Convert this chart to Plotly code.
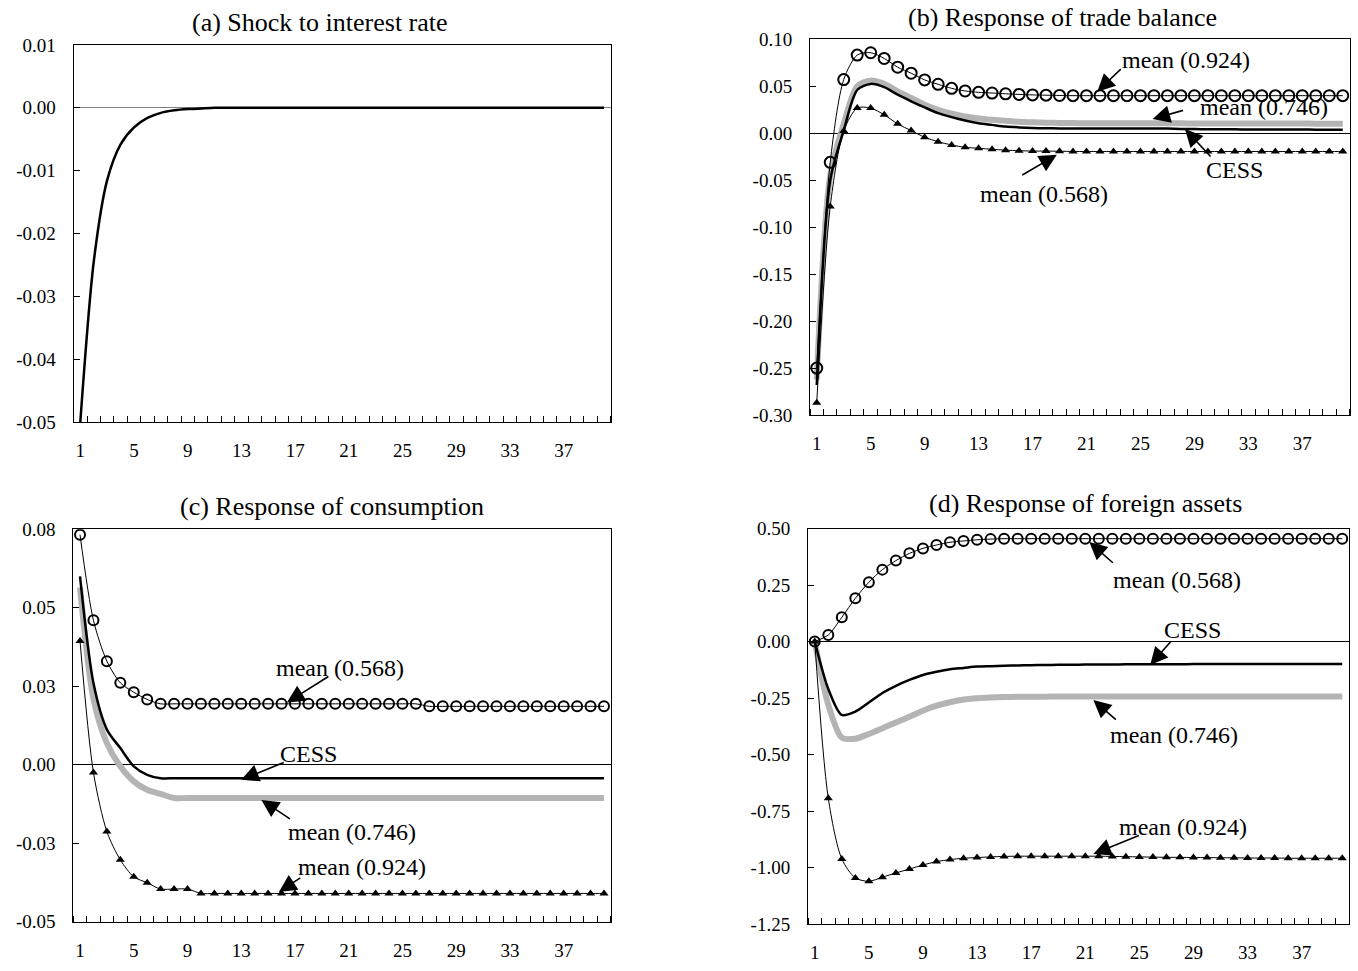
import plotly.graph_objects as go

# ---------------- data ----------------
periods = list(range(1, 41))
x_tick_vals = [1, 5, 9, 13, 17, 21, 25, 29, 33, 37]
x_tick_text = ["1", "5", "9", "13", "17", "21", "25", "29", "33", "37"]

# (a) shock to interest rate
shock = [-0.05, -0.0245, -0.0115, -0.0058, -0.0031, -0.0016, -0.0008, -0.0004, -0.0002, -0.0001] + [0.0] * 30

# (b) trade balance
tb_cess = [-0.268, -0.050, 0.003, 0.046, 0.0525, 0.049, 0.041, 0.034, 0.0275, 0.0214,
           0.0171, 0.0135, 0.0107, 0.0089, 0.0071, 0.0062, 0.0056, 0.0053, 0.0051, 0.0050,
           0.0050, 0.0050, 0.0050, 0.0050, 0.0050, 0.0050, 0.0049, 0.0046, 0.0044, 0.0043,
           0.0042, 0.0041, 0.0040, 0.0040, 0.0040, 0.0039, 0.0039, 0.0038, 0.0038, 0.0037]
tb_746 = [-0.262, -0.045, 0.010, 0.050, 0.056, 0.0525, 0.0446, 0.0375, 0.0303, 0.0250,
          0.0207, 0.0178, 0.0157, 0.0143, 0.0132, 0.0122, 0.0116, 0.0112, 0.0110, 0.0108,
          0.0107, 0.0106, 0.0106, 0.0105, 0.0105, 0.0105, 0.0105, 0.0105, 0.0104, 0.0104,
          0.0104, 0.0104, 0.0103, 0.0103, 0.0103, 0.0103, 0.0103, 0.0102, 0.0102, 0.0102]
tb_924 = [-0.250, -0.031, 0.0571, 0.0832, 0.0857, 0.0796, 0.0703, 0.0639, 0.0568, 0.0521,
          0.0478, 0.0450, 0.0435, 0.0428, 0.0420, 0.0413, 0.0408, 0.0405, 0.0402, 0.0400,
          0.0400, 0.0400, 0.0400, 0.0400, 0.0400, 0.0400, 0.0400, 0.0400, 0.0400, 0.0400,
          0.0400, 0.0400, 0.0400, 0.0400, 0.0400, 0.0400, 0.0400, 0.0400, 0.0400, 0.0400]
tb_568 = [-0.287, -0.078, 0.0025, 0.0268, 0.0268, 0.0196, 0.0100, 0.0028, -0.0043, -0.0090,
          -0.0125, -0.0150, -0.0160, -0.0171, -0.0180, -0.0186, -0.0190, -0.0190, -0.0192, -0.0194,
          -0.0195, -0.0195, -0.0195, -0.0195, -0.0195, -0.0195, -0.0195, -0.0195, -0.0195, -0.0195,
          -0.0195, -0.0195, -0.0195, -0.0195, -0.0195, -0.0195, -0.0195, -0.0195, -0.0195, -0.0195]

# (c) consumption
c_cess = [0.060, 0.026, 0.0112, 0.0053, -0.0005, -0.0032, -0.0043] + [-0.0043] * 33
c_746 = [0.0565, 0.021, 0.0069, -0.0005, -0.0053, -0.0080, -0.0093, -0.0106] + [-0.0106] * 32
c_568 = [0.0733, 0.046, 0.033, 0.0261, 0.0231, 0.0208] + [0.0194] * 20 + [0.0186] * 14
c_924 = [0.0394, -0.0025, -0.0213, -0.0303, -0.0357, -0.0376, -0.0396, -0.0396, -0.0396] + [-0.0410] * 31

# (d) foreign assets
d_cess = [0.0, -0.21, -0.325, -0.310, -0.270, -0.228, -0.196, -0.170, -0.148, -0.134,
          -0.123, -0.117, -0.111, -0.109, -0.107, -0.106, -0.105, -0.104, -0.103, -0.103,
          -0.102, -0.102, -0.102, -0.101, -0.101, -0.101, -0.101, -0.101, -0.100, -0.100,
          -0.100, -0.100, -0.100, -0.100, -0.100, -0.100, -0.100, -0.100, -0.100, -0.100]
d_746 = [0.0, -0.28, -0.425, -0.430, -0.409, -0.384, -0.358, -0.333, -0.306, -0.284,
         -0.269, -0.257, -0.251, -0.248, -0.246, -0.245, -0.244, -0.244, -0.243, -0.243,
         -0.243, -0.243, -0.243, -0.243, -0.243, -0.243, -0.243, -0.243, -0.243, -0.243,
         -0.243, -0.243, -0.243, -0.243, -0.243, -0.243, -0.243, -0.243, -0.243, -0.243]
d_568 = [0.0, 0.029, 0.107, 0.191, 0.262, 0.318, 0.358, 0.390, 0.412, 0.427,
         0.439, 0.445, 0.450, 0.453, 0.455] + [0.455] * 25
d_924 = [0.0, -0.694, -0.962, -1.046, -1.061, -1.043, -1.024, -1.007, -0.989, -0.974,
         -0.965, -0.959, -0.956, -0.953, -0.951, -0.950, -0.950, -0.950, -0.950, -0.950,
         -0.950, -0.950, -0.951, -0.952, -0.953, -0.954, -0.955, -0.955, -0.956, -0.956,
         -0.957, -0.957, -0.958, -0.958, -0.958, -0.959, -0.959, -0.959, -0.959, -0.959]

# axis ticks
a_ticks = [0.01, 0.0, -0.01, -0.02, -0.03, -0.04, -0.05]
a_ticktext = ["0.01", "0.00", "-0.01", "-0.02", "-0.03", "-0.04", "-0.05"]
b_ticks = [0.10, 0.05, 0.0, -0.05, -0.10, -0.15, -0.20, -0.25, -0.30]
b_ticktext = ["0.10", "0.05", "0.00", "-0.05", "-0.10", "-0.15", "-0.20", "-0.25", "-0.30"]
c_ticks = [0.075, 0.05, 0.025, 0.0, -0.025, -0.05]
c_ticktext = ["0.08", "0.05", "0.03", "0.00", "-0.03", "-0.05"]
d_ticks = [0.5, 0.25, 0.0, -0.25, -0.5, -0.75, -1.0, -1.25]
d_ticktext = ["0.50", "0.25", "0.00", "-0.25", "-0.50", "-0.75", "-1.00", "-1.25"]

titles = ["(a) Shock to interest rate", "(b) Response of trade balance",
          "(c) Response of consumption", "(d) Response of foreign assets"]

# ---------------- layout helpers ----------------
W, H = 1358, 971
FONT = "Liberation Serif"
GREY = "#b4b4b4"

def xd(l, r):
    return [l / W, r / W]

def yd(t, b):
    return [1 - b / H, 1 - t / H]

fig = go.Figure()

def line_trace(y, ax, color="black", width=2.5):
    return go.Scatter(x=periods, y=y, mode="lines", xaxis=ax[0], yaxis=ax[1],
                      line=dict(color=color, width=width, shape="spline", smoothing=0.8),
                      showlegend=False, hoverinfo="skip")

def marker_trace(y, ax, symbol, size, mlw):
    if symbol == "circle-open":
        marker = dict(symbol=symbol, size=size, color="black", line=dict(width=mlw, color="black"))
    else:
        marker = dict(symbol=symbol, size=size, color="black", line=dict(width=0))
    return go.Scatter(x=periods, y=y, mode="lines+markers", xaxis=ax[0], yaxis=ax[1],
                      line=dict(color="black", width=1, shape="spline", smoothing=0.8),
                      marker=marker, showlegend=False, hoverinfo="skip")

# (a)
fig.add_trace(line_trace(shock, ("x", "y")))
# (b)
fig.add_trace(line_trace(tb_746, ("x2", "y2"), GREY, 6))
fig.add_trace(line_trace(tb_cess, ("x2", "y2")))
fig.add_trace(marker_trace(tb_568, ("x2", "y2"), "triangle-up", 8, 0))
fig.add_trace(marker_trace(tb_924, ("x2", "y2"), "circle-open", 11, 2))
# (c)
fig.add_trace(line_trace(c_746, ("x3", "y3"), GREY, 6))
fig.add_trace(line_trace(c_cess, ("x3", "y3")))
fig.add_trace(marker_trace(c_924, ("x3", "y3"), "triangle-up", 8, 0))
fig.add_trace(marker_trace(c_568, ("x3", "y3"), "circle-open", 10, 2))
# (d)
fig.add_trace(line_trace(d_746, ("x4", "y4"), GREY, 6))
fig.add_trace(line_trace(d_cess, ("x4", "y4")))
fig.add_trace(marker_trace(d_924, ("x4", "y4"), "triangle-up", 8, 0))
fig.add_trace(marker_trace(d_568, ("x4", "y4"), "circle-open", 10, 2))

tickfont = dict(family=FONT, size=19, color="black")

def xaxis(dom):
    return dict(domain=dom, range=[0.5, 40.5], tickmode="array", tickvals=x_tick_vals,
                ticktext=x_tick_text, ticks="", showgrid=False, zeroline=False,
                showline=True, linecolor="black", linewidth=1, mirror=True,
                tickfont=tickfont, ticklabelstandoff=11, automargin=False,
                minor=dict(ticks="inside", tick0=0.5, dtick=1, ticklen=6,
                           tickcolor="black", tickwidth=1, showgrid=False))

def yaxis(dom, rng, tv, tt, anchor, zc="black"):
    return dict(domain=dom, range=rng, tickmode="array", tickvals=tv, ticktext=tt,
                ticks="inside", ticklen=6, tickcolor="black", showgrid=False,
                zeroline=True, zerolinecolor=zc, zerolinewidth=1,
                showline=True, linecolor="black", linewidth=1, mirror=True,
                tickfont=tickfont, ticklabelstandoff=13, anchor=anchor, automargin=False)

fig.update_layout(
    width=W, height=H, margin=dict(l=0, r=0, t=0, b=0, pad=0, autoexpand=False),
    paper_bgcolor="white", plot_bgcolor="white", showlegend=False,
    xaxis=dict(**xaxis(xd(73.6, 610.7)), anchor="y"),
    yaxis=yaxis(yd(45, 422), [-0.05, 0.01], a_ticks, a_ticktext, "x", "#808080"),
    xaxis2=dict(**xaxis(xd(810, 1349.5)), anchor="y2"),
    yaxis2=yaxis(yd(39.3, 415), [-0.30, 0.10], b_ticks, b_ticktext, "x2"),
    xaxis3=dict(**xaxis(xd(73.3, 610.7)), anchor="y3"),
    yaxis3=yaxis(yd(529.3, 921.7), [-0.05, 0.075], c_ticks, c_ticktext, "x3"),
    xaxis4=dict(**xaxis(xd(808, 1349)), anchor="y4"),
    yaxis4=yaxis(yd(528.5, 924), [-1.25, 0.5], d_ticks, d_ticktext, "x4"),
)

# titles
title_pos = [(320, 22), (1062, 18), (332, 507), (1085, 503)]
for t, (px, py) in zip(titles, title_pos):
    fig.add_annotation(x=px / W, y=1 - py / H, xref="paper", yref="paper", text=t,
                       showarrow=False, xanchor="center", yanchor="middle",
                       font=dict(family=FONT, size=26, color="black"))

# labels: (text, px, py)
labels = [
    ("mean (0.924)", 1186, 60), ("mean (0.746)", 1264, 107), ("CESS", 1234, 170), ("mean (0.568)", 1044, 194),
    ("mean (0.568)", 340, 668), ("CESS", 308, 754), ("mean (0.746)", 352, 832), ("mean (0.924)", 362, 867),
    ("mean (0.568)", 1177, 580), ("CESS", 1192, 630), ("mean (0.746)", 1174, 735), ("mean (0.924)", 1183, 827),
]
for t, px, py in labels:
    fig.add_annotation(x=px / W, y=1 - py / H, xref="paper", yref="paper", text=t,
                       showarrow=False, xanchor="center", yanchor="middle",
                       font=dict(family=FONT, size=24, color="black"))

# arrows: (xref, yref, tip_x, tip_y, ax, ay)
arrows = [
    ("x2", "y2", 21.8, 0.0442, 25, -24), ("x2", "y2", 25.9, 0.0152, 32, -9),
    ("x2", "y2", 28.3, 0.0045, 27, 29), ("x2", "y2", 18.8, -0.023, -36, 21),
    ("x3", "y3", 16.4, 0.0198, 43, -27), ("x3", "y3", 13.0, -0.0048, 44, -18),
    ("x3", "y3", 14.5, -0.0112, 30, 20), ("x3", "y3", 15.8, -0.0405, 23, -15),
    ("x4", "y4", 21.3, 0.44, 25, 22), ("x4", "y4", 25.8, -0.104, 22, -25),
    ("x4", "y4", 21.6, -0.259, 24, 21), ("x4", "y4", 21.6, -0.94, 47, -19),
]
for xr, yr, tx, ty, axp, ayp in arrows:
    fig.add_annotation(x=tx, y=ty, xref=xr, yref=yr, ax=axp, ay=ayp, text="",
                       showarrow=True, arrowhead=2, arrowsize=2.2, arrowwidth=1.6,
                       arrowcolor="black")

fig.write_html("out.html")
